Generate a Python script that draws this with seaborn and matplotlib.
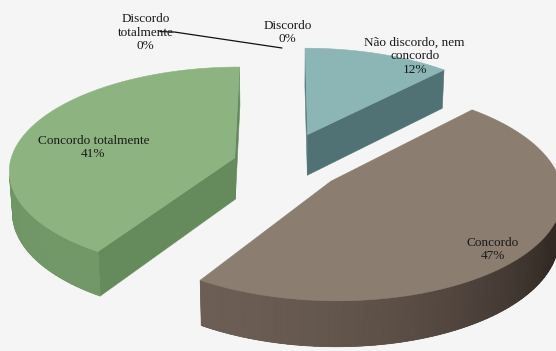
import numpy as np
import matplotlib
matplotlib.use("Agg")
import matplotlib.pyplot as plt
from matplotlib.patches import Polygon
import seaborn as sns

# ---- data -------------------------------------------------------------
categories = ["Discordo totalmente", "Discordo", "Não discordo, nem concordo",
              "Concordo", "Concordo totalmente"]
label_names = ["Discordo\ntotalmente", "Discordo", "Não discordo, nem\nconcordo",
               "Concordo", "Concordo totalmente"]
percent = [0, 0, 12, 47, 41]

# ---- styling ----------------------------------------------------------
top_colors = ["#4f81bd", "#c0504d", "#8cb5b5", "#8b7d70", "#8db480"]
wall_lit = ["#3d6491", "#933d3b", "#648a8c", "#6c5e54", "#729868"]
wall_shade = ["#2f4d70", "#722f2d", "#4b6a6c", "#332a25", "#64895c"]
explode = [0.0, 0.0, 0.32, 0.27, 0.22]
# label anchor in pie-plane polar coordinates (angle clockwise from 12h, radius)
label_polar = [(334.8, 1.66), (1.1, 1.50), (29.2, 1.37), (131.9, 1.15), (281.0, 0.87)]

# ---- 3-D perspective view of the pie ----------------------------------
PHI = np.radians(27.0)      # elevation of the viewer
DIST = 8.0                  # viewer distance, in radii
SCALE = 225.0               # pixels per radius at the pie centre
ORIGIN = (282.0, 164.0)     # screen position of the pie centre
THICK = 0.21                # slab thickness, in radii
CAM = np.array([0.0, -DIST * np.cos(PHI), DIST * np.sin(PHI)])
LIGHT = np.array([-0.6, -0.8, 0.0])


def project(X, Y, Z):
    w = 1.0 + (Y * np.cos(PHI) - Z * np.sin(PHI)) / DIST
    sx = ORIGIN[0] + SCALE * X / w
    sy = ORIGIN[1] - SCALE * (Y * np.sin(PHI) + Z * np.cos(PHI)) / w
    return sx, sy


def mix(c_lit, c_shade, normal):
    lit = np.array(matplotlib.colors.to_rgb(c_lit))
    dark = np.array(matplotlib.colors.to_rgb(c_shade))
    t = np.clip((np.dot(normal, LIGHT) + 0.2) / 1.2, 0, 1)
    return tuple(dark + t * (lit - dark))


def facing(normal, point):
    return np.dot(normal, CAM - point) > 0


sns.set_theme(style="white")
palette = sns.color_palette(top_colors)

fig = plt.figure(figsize=(5.56, 3.51), dpi=100)
fig.patch.set_facecolor("#f5f5f5")
ax = fig.add_axes([0, 0, 1, 1])
ax.set_facecolor("#f5f5f5")
ax.set_xlim(0, 556)
ax.set_ylim(351, 0)
ax.axis("off")

fractions = np.array(percent, dtype=float) / sum(percent)
ends = np.cumsum(fractions) * 360.0
starts = ends - fractions * 360.0

slices = []
for i in range(len(categories)):
    if fractions[i] <= 0:
        continue
    mid = np.radians((starts[i] + ends[i]) / 2)
    off = explode[i] * np.array([np.sin(mid), np.cos(mid)])
    slices.append((off[1], i, off))
slices.sort(key=lambda s: -s[0])


def add_face(pts3d, color, lw=0.4):
    xy = [project(*p) for p in pts3d]
    ax.add_patch(Polygon(xy, closed=True, facecolor=color, edgecolor=color,
                         linewidth=lw, joinstyle="round"))


for _, i, off in slices:
    a0, a1 = np.radians(starts[i]), np.radians(ends[i])
    th = np.linspace(a0, a1, max(8, int((ends[i] - starts[i]) / 1.5)))
    cx, cy = off
    rim = [(cx + np.sin(t), cy + np.cos(t)) for t in th]
    # radial faces
    for ang, sign in ((a0, -1), (a1, 1)):
        n = np.array([np.sin(ang + sign * np.pi / 2), np.cos(ang + sign * np.pi / 2), 0.0])
        rx, ry = cx + np.sin(ang), cy + np.cos(ang)
        p = np.array([(cx + rx) / 2, (cy + ry) / 2, -THICK / 2])
        if facing(n, p):
            add_face([(cx, cy, 0), (rx, ry, 0), (rx, ry, -THICK), (cx, cy, -THICK)],
                     mix(wall_lit[i], wall_shade[i], n))
    # curved outer wall: one underlay for the visible run, then shaded strips
    strips = []
    for k in range(len(th) - 1):
        tm = (th[k] + th[k + 1]) / 2
        n = np.array([np.sin(tm), np.cos(tm), 0.0])
        p = np.array([cx + np.sin(tm), cy + np.cos(tm), -THICK / 2])
        if facing(n, p):
            strips.append((k, n))
    if strips:
        ks = [k for k, _ in strips] + [strips[-1][0] + 1]
        top = [(rim[k][0], rim[k][1], 0) for k in ks]
        bot = [(rim[k][0], rim[k][1], -THICK) for k in ks[::-1]]
        add_face(top + bot, mix(wall_lit[i], wall_shade[i], strips[len(strips) // 2][1]), lw=0.2)
        for k, n in strips:
            (x1, y1), (x2, y2) = rim[k], rim[k + 1]
            add_face([(x1, y1, 0), (x2, y2, 0), (x2, y2, -THICK), (x1, y1, -THICK)],
                     mix(wall_lit[i], wall_shade[i], n), lw=0.6)
    # top face
    add_face([(cx, cy, 0)] + [(x, y, 0) for x, y in rim], palette[i])

# ---- data labels ------------------------------------------------------
font = dict(family=["Liberation Serif", "DejaVu Serif"], fontsize=9.5, color="#1a1a1a")
for i, name in enumerate(label_names):
    ang, rad = label_polar[i]
    lx, ly = project(rad * np.sin(np.radians(ang)), rad * np.cos(np.radians(ang)), 0)
    ax.text(lx, ly, f"{name}\n{percent[i]}%", ha="center", va="center",
            linespacing=1.15, **font)
    if i == 0:
        ex, ey = project(0.0, 1.3, 0.0)
        ax.plot([lx + 14, lx + 29, ex], [ly - 1, ly - 0.5, ey],
                color="#111111", linewidth=0.9)

fig.savefig("out.png", dpi=100, facecolor=fig.get_facecolor())
